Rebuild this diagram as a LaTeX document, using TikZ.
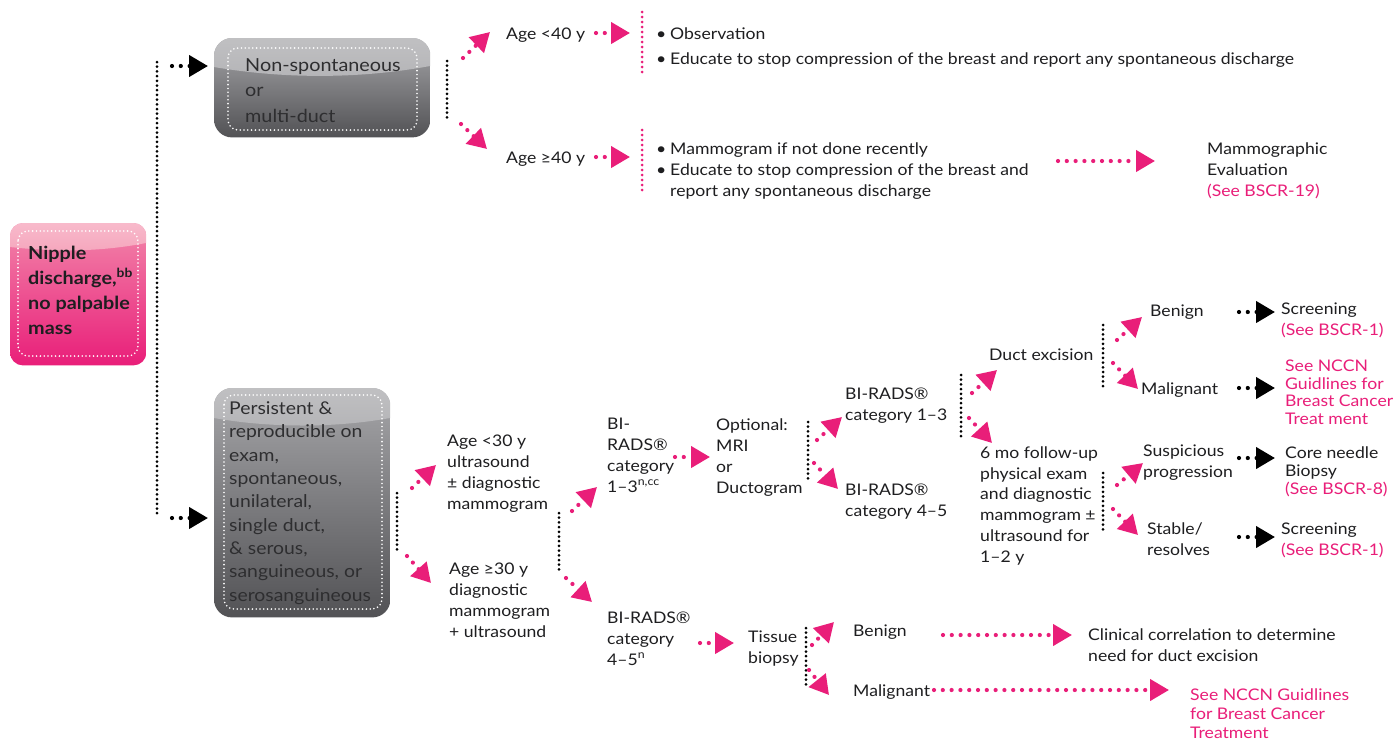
\documentclass[tikz,border=0pt]{standalone}
\usepackage{fontspec}
\setmainfont{Lato}[FakeStretch=1.1]
\usetikzlibrary{arrows.meta}

\definecolor{nccnpink}{RGB}{233,30,121}
\definecolor{ink}{RGB}{30,30,32}
\definecolor{boxink}{RGB}{46,46,48}
\definecolor{glosstop}{RGB}{192,192,194}
\definecolor{glossbot}{RGB}{180,180,183}
\definecolor{greytop}{RGB}{166,166,169}
\definecolor{greybot}{RGB}{82,82,85}
\definecolor{pinkglosstop}{RGB}{248,186,203}
\definecolor{pinkglossbot}{RGB}{245,166,189}
\definecolor{pinktop}{RGB}{242,134,170}
\definecolor{pinkbot}{RGB}{233,30,121}

\tikzset{
  lbl/.style={anchor=base west, inner sep=0pt, align=left, text=ink,
    font=\fontsize{16}{20.7}\selectfont},
  pinklbl/.style={lbl, text=nccnpink},
  boxlbl/.style={lbl, text=boxink},
  bracket/.style={draw=black, line width=3pt, line cap=round,
    dash pattern=on 0pt off 4.7pt},
  pinkbracket/.style={bracket, draw=nccnpink, dash pattern=on 0pt off 5pt},
  parrow/.style={draw=nccnpink, line width=4.2pt, line cap=round,
    dash pattern=on 0pt off 8.8pt, -{Triangle[length=19pt,width=21pt]}},
  karrow/.style={parrow, draw=black},
  innerdots/.style={draw=white, line width=1.8pt, line cap=round,
    dash pattern=on 0pt off 3.8pt, rounded corners=10pt},
  boxframe/.style={inner sep=0pt, anchor=north west},
}

\begin{document}
\begin{tikzpicture}[x=1pt,y=-1pt]
\useasboundingbox (0,0) rectangle (1394,740);
\fill[white] (0,0) rectangle (1394,740);

% Labels are placed by the baseline of their last line.

% ---------- entry box ----------
\node[boxframe, minimum width=136pt, minimum height=142pt] (entry) at (10,223) {};
\begin{scope}
  \clip[rounded corners=13pt] (entry.north west) rectangle (entry.south east);
  \shade[top color=pinktop, bottom color=pinkbot] (entry.north west) rectangle (entry.south east);
  \shade[top color=pinkglosstop, bottom color=pinkglossbot]
    (10,223) -- (146,223) -- (146,243) .. controls (100,252) and (55,252) .. (10,247) -- cycle;
\end{scope}
\draw[innerdots] (18,231) rectangle (138,356);
\node[lbl, font=\bfseries\fontsize{18}{25}\selectfont] (entrytxt) at (28,334)
  {Nipple\\discharge,\textsuperscript{bb}\\no palpable\\mass};

% ---------- spine ----------
\coordinate (spA) at (157,62);
\coordinate (spB) at (157,515);
\draw[bracket] (spA) -- (spB);

% ---------- branch boxes ----------
\node[boxframe, minimum width=216pt, minimum height=99pt] (ns) at (214,38) {};
\begin{scope}
  \clip[rounded corners=18pt] (ns.north west) rectangle (ns.south east);
  \shade[top color=greytop, bottom color=greybot] (ns.north west) rectangle (ns.south east);
  \shade[top color=glosstop, bottom color=glossbot]
    (214,38) -- (430,38) -- (430,66) .. controls (360,79) and (284,79) .. (214,67) -- cycle;
\end{scope}
\draw[innerdots] (228,48) rectangle (417,130);
\node[boxlbl, font=\fontsize{18}{25.5}\selectfont] (nstxt) at (245,122)
  {Non-spontaneous\\or\\multi-duct};

\node[boxframe, minimum width=176pt, minimum height=229pt] (ps) at (214,388) {};
\begin{scope}
  \clip[rounded corners=18pt] (ps.north west) rectangle (ps.south east);
  \shade[top color=greytop, bottom color=greybot] (ps.north west) rectangle (ps.south east);
  \shade[top color=glosstop, bottom color=glossbot]
    (214,388) -- (390,388) -- (390,418) .. controls (335,428) and (270,428) .. (214,418) -- cycle;
\end{scope}
\draw[innerdots] (224,395) rectangle (382,609);
\node[boxlbl, font=\fontsize{17.6}{23.3}\selectfont] (pstxt) at (229,601)
  {Persistent \&\\reproducible on\\exam,\\spontaneous,\\unilateral,\\single duct,\\\& serous,\\sanguineous, or\\serosanguineous};

\coordinate (kA) at (172,66);
\coordinate (kB) at (172,518);
\draw[karrow, shorten >=6pt] (kA) -- (ns.west |- kA);
\draw[karrow, shorten >=6pt] (kB) -- (ps.west |- kB);

% ---------- upper branch ----------
\coordinate (b1t) at (447,61);
\coordinate (b1b) at (447,122);
\draw[bracket] (b1t) -- (b1b);
\coordinate (u1s) at (463,58);  \coordinate (u1e) at (490,32);
\coordinate (d1s) at (461,124); \coordinate (d1e) at (487,149);
\draw[parrow] (u1s) -- (u1e);
\draw[parrow] (d1s) -- (d1e);

\node[lbl] (lt40) at (506,39) {Age <40 y};
\node[lbl] (ge40) at (506,163) {Age ≥40 y};
\coordinate (h1s) at (596,33);  \coordinate (h1e) at (630,33);
\coordinate (h2s) at (596,157); \coordinate (h2e) at (630,157);
\draw[parrow] (h1s) -- (h1e);
\draw[parrow] (h2s) -- (h2e);

\coordinate (p1t) at (642,12);  \coordinate (p1b) at (642,73);
\coordinate (p2t) at (642,130); \coordinate (p2b) at (642,190);
\draw[pinkbracket] (p1t) -- (p1b);
\draw[pinkbracket] (p2t) -- (p2b);

\node[lbl] (obs) at (656,64)
  {\makebox[14pt][l]{\textbullet}Observation\\[4.3pt]
   \makebox[14pt][l]{\textbullet}Educate to stop compression of the breast and report any spontaneous discharge};
\node[lbl] (mam) at (656,196)
  {\makebox[14pt][l]{\textbullet}Mammogram if not done recently\\
   \makebox[14pt][l]{\textbullet}Educate to stop compression of the breast and\\
   \hspace*{14pt}report any spontaneous discharge};

\coordinate (h3s) at (1058,161); \coordinate (h3e) at (1155,161);
\draw[parrow] (h3s) -- (h3e);
\node[lbl] (mev) at (1207,196)
  {Mammographic\\Evaluation\\\textcolor{nccnpink}{(See BSCR-19)}};

% ---------- lower branch ----------
\coordinate (b2t) at (397,493);
\coordinate (b2b) at (397,553);
\draw[bracket] (b2t) -- (b2b);
\coordinate (u2s) at (412,488); \coordinate (u2e) at (436,465);
\coordinate (d2s) at (407,556); \coordinate (d2e) at (431,583);
\draw[parrow] (u2s) -- (u2e);
\draw[parrow] (d2s) -- (d2e);

\node[lbl] (lt30) at (447,509) {Age <30 y\\ultrasound\\± diagnostic\\mammogram};
\node[lbl] (ge30) at (449,637) {Age ≥30 y\\diagnostic\\mammogram\\+ ultrasound};

\coordinate (b3t) at (559,513);
\coordinate (b3b) at (559,573);
\draw[bracket] (b3t) -- (b3b);
\coordinate (u3s) at (572,511); \coordinate (u3e) at (597,487);
\coordinate (d3s) at (566,578); \coordinate (d3e) at (592,602);
\draw[parrow] (u3s) -- (u3e);
\draw[parrow] (d3s) -- (d3e);

\node[lbl] (bir13) at (607,492) {BI-\\RADS®\\category\\1–3\textsuperscript{n,cc}};
\coordinate (h4s) at (675,457); \coordinate (h4e) at (710,457);
\draw[parrow] (h4s) -- (h4e);
\node[lbl] (opt) at (716,493) {Optional:\\MRI\\or\\Ductogram};

\coordinate (b4t) at (808,422);
\coordinate (b4b) at (808,482);
\draw[bracket] (b4t) -- (b4b);
\coordinate (u4s) at (817,440); \coordinate (u4e) at (842,417);
\coordinate (d4s) at (814,463); \coordinate (d4e) at (838,489);
\draw[parrow] (u4s) -- (u4e);
\draw[parrow] (d4s) -- (d4e);

\node[lbl] (cat13) at (845,420) {BI-RADS®\\category 1–3};
\node[lbl] (cat45) at (845,516) {BI-RADS®\\category 4–5};

\coordinate (b5t) at (961,375);
\coordinate (b5b) at (961,437);
\draw[bracket] (b5t) -- (b5b);
\coordinate (u5s) at (972,393); \coordinate (u5e) at (997,370);
\coordinate (d5s) at (969,418); \coordinate (d5e) at (992,443);
\draw[parrow] (u5s) -- (u5e);
\draw[parrow] (d5s) -- (d5e);

\node[lbl] (duct) at (989,360) {Duct excision};
\node[lbl] (fup) at (980,562)
  {6 mo follow-up\\physical exam\\and diagnostic\\mammogram ±\\ultrasound for\\1–2 y};

\coordinate (b6t) at (1103,325);
\coordinate (b6b) at (1103,387);
\draw[bracket] (b6t) -- (b6b);
\coordinate (u6s) at (1117,340); \coordinate (u6e) at (1142,317);
\coordinate (d6s) at (1113,363); \coordinate (d6e) at (1138,389);
\draw[parrow] (u6s) -- (u6e);
\draw[parrow] (d6s) -- (d6e);

\node[lbl] (ben1) at (1150,316) {Benign};
\node[lbl] (mal1) at (1141,394) {Malignant};

\coordinate (b7t) at (1103,473);
\coordinate (b7b) at (1103,533);
\draw[bracket] (b7t) -- (b7b);
\coordinate (u7s) at (1117,485); \coordinate (u7e) at (1143,463);
\coordinate (d7s) at (1113,509); \coordinate (d7e) at (1138,535);
\draw[parrow] (u7s) -- (u7e);
\draw[parrow] (d7s) -- (d7e);

\node[lbl] (susp) at (1143,477) {Suspicious\\progression};
\node[lbl] (stab) at (1147,555) {Stable/\\resolves};

\coordinate (k1s) at (1239,312); \coordinate (k1e) at (1275,312);
\coordinate (k2s) at (1239,388); \coordinate (k2e) at (1275,388);
\coordinate (k3s) at (1239,458); \coordinate (k3e) at (1275,458);
\coordinate (k4s) at (1239,537); \coordinate (k4e) at (1275,537);
\draw[karrow] (k1s) -- (k1e);
\draw[karrow] (k2s) -- (k2e);
\draw[karrow] (k3s) -- (k3e);
\draw[karrow] (k4s) -- (k4e);

\node[lbl, font=\fontsize{16}{21}\selectfont] (scr1) at (1281,335) {Screening\\\textcolor{nccnpink}{(See BSCR-1)}};
\node[pinklbl, font=\fontsize{16}{17.5}\selectfont] (tx1) at (1285,424)
  {See NCCN\\Guidlines for\\Breast Cancer\\Treat ment};
\node[lbl, font=\fontsize{16}{18}\selectfont] (core) at (1285,494)
  {Core needle\\Biopsy\\\textcolor{nccnpink}{(See BSCR-8)}};
\node[lbl, font=\fontsize{16}{21}\selectfont] (scr2) at (1281,555) {Screening\\\textcolor{nccnpink}{(See BSCR-1)}};

% ---------- tissue biopsy ----------
\node[lbl] (bir45) at (607,665) {BI-RADS®\\category\\4–5\textsuperscript{n}};
\coordinate (h5s) at (700,643); \coordinate (h5e) at (734,643);
\draw[parrow] (h5s) -- (h5e);
\node[lbl] (tis) at (748,663) {Tissue\\biopsy};

\coordinate (b8t) at (806,628);
\coordinate (b8b) at (806,688);
\draw[bracket] (b8t) -- (b8b);
\coordinate (u8s) at (812,645); \coordinate (u8e) at (834,622);
\coordinate (d8s) at (809,670); \coordinate (d8e) at (829,695);
\draw[parrow] (u8s) -- (u8e);
\draw[parrow] (d8s) -- (d8e);

\node[lbl] (ben2) at (853,636) {Benign};
\node[lbl] (mal2) at (853,696) {Malignant};
\coordinate (h6s) at (943,635); \coordinate (h6e) at (1072,635);
\coordinate (h7s) at (934,690); \coordinate (h7e) at (1169,690);
\draw[parrow] (h6s) -- (h6e);
\draw[parrow] (h7s) -- (h7e);

\node[lbl] (clin) at (1088,661) {Clinical correlation to determine\\need for duct excision};
\node[pinklbl, font=\fontsize{16}{19}\selectfont] (tx2) at (1190,738)
  {See NCCN Guidlines\\for Breast Cancer\\Treatment};
\end{tikzpicture}
\end{document}
